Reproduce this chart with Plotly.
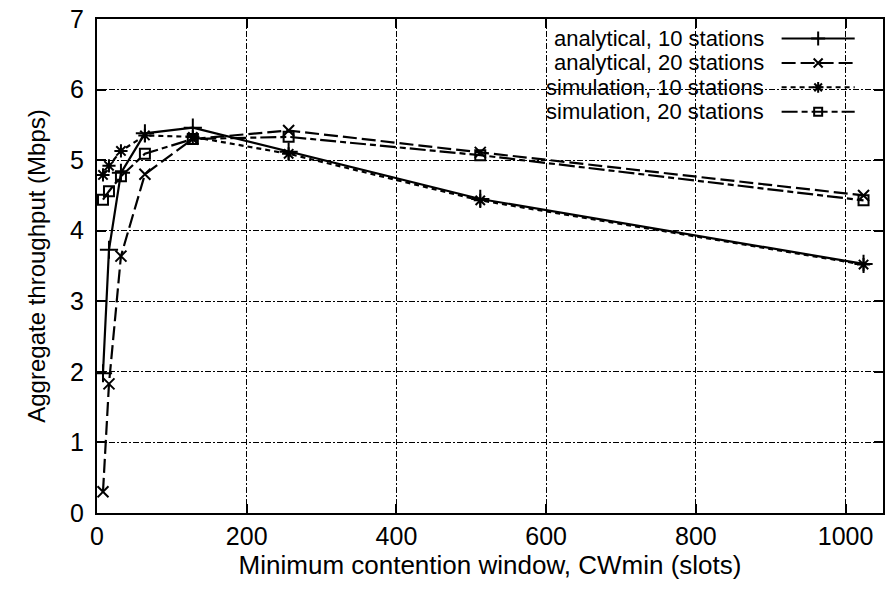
import plotly.graph_objects as go

# ---- data ----
cwmin = [8, 16, 32, 64, 128, 256, 512, 1024]
analytical_10 = [1.98, 3.73, 4.82, 5.38, 5.46, 5.12, 4.45, 3.53]
analytical_20 = [0.30, 1.83, 3.64, 4.80, 5.30, 5.42, 5.11, 4.50]
simulation_10 = [4.79, 4.92, 5.13, 5.35, 5.33, 5.09, 4.43, 3.52]
simulation_20 = [4.44, 4.56, 4.77, 5.09, 5.30, 5.33, 5.07, 4.43]

series_names = ["analytical, 10 stations", "analytical, 20 stations",
                "simulation, 10 stations", "simulation, 20 stations"]
series_values = [analytical_10, analytical_20, simulation_10, simulation_20]

x_ticks = [0, 200, 400, 600, 800, 1000]
y_ticks = [0, 1, 2, 3, 4, 5, 6, 7]

# ---- styles ----
styles = [
    dict(dash="solid", symbol="cross-thin", size=13, lsize=10),
    dict(dash="14px,5px", symbol="x-thin", size=11, lsize=9),
    dict(dash="5px,4px", symbol="asterisk", size=11, lsize=9),
    dict(dash="16px,4px,6px,4px", symbol="square-open", size=10, lsize=8),
]

FONT = "Liberation Sans, Arial, Helvetica, sans-serif"

fig = go.Figure()

for name, vals, st in zip(series_names, series_values, styles):
    fig.add_trace(go.Scatter(
        x=cwmin, y=vals, mode="lines+markers", name=name, showlegend=False,
        line=dict(color="black", width=2.2, dash=st["dash"]),
        marker=dict(symbol=st["symbol"], size=st["size"], color="black",
                    line=dict(color="black", width=2)),
    ))

# ---- custom gnuplot-style legend (text left, sample right) ----
leg_rows = [0.9606, 0.9111, 0.8616, 0.8121]
leg_x0, leg_x1, leg_text_x = 0.871, 0.964, 0.850
for name, st, yy in zip(series_names, styles, leg_rows):
    fig.add_trace(go.Scatter(
        x=[leg_x0, leg_x1], y=[yy, yy], mode="lines", xaxis="x2", yaxis="y2",
        showlegend=False, hoverinfo="skip",
        line=dict(color="black", width=2, dash=st["dash"]),
    ))
    fig.add_trace(go.Scatter(
        x=[(leg_x0 + leg_x1) / 2], y=[yy], mode="markers", xaxis="x2", yaxis="y2",
        showlegend=False, hoverinfo="skip",
        marker=dict(symbol=st["symbol"], size=st["lsize"], color="black",
                    line=dict(color="black", width=2)),
    ))
    fig.add_annotation(x=leg_text_x, y=yy, xref="paper", yref="paper",
                       text=name, showarrow=False, xanchor="right", yanchor="middle",
                       borderpad=0,
                       font=dict(family=FONT, size=22, color="black"))

fig.add_shape(type="rect", xref="paper", yref="paper", x0=0.396, x1=1.0, y0=0.784, y1=1.0,
              fillcolor="white", line=dict(width=0), layer="between")

axis_common = dict(
    showline=True, linecolor="black", linewidth=2, mirror="ticks",
    ticks="inside", ticklen=9, tickwidth=1.5, tickcolor="black",
    showgrid=True, gridcolor="black", gridwidth=1.2, griddash="6px,2px,2px,2px",
    zeroline=False, tickfont=dict(family=FONT, size=25, color="black"),
)

fig.update_layout(
    width=890, height=590,
    margin=dict(l=97, r=5, t=18, b=77),
    paper_bgcolor="white", plot_bgcolor="white",
    font=dict(family=FONT, color="black"),
    xaxis=dict(range=[0, 1050], tickvals=x_ticks, ticklabelstandoff=0,
               title=dict(text="Minimum contention window, CWmin (slots)",
                          font=dict(family=FONT, size=26), standoff=6),
               **axis_common),
    yaxis=dict(range=[0, 7], tickvals=y_ticks, ticklabelstandoff=6,
               title=dict(text="Aggregate throughput (Mbps)",
                          font=dict(family=FONT, size=24), standoff=18),
               **axis_common),
    xaxis2=dict(range=[0, 1], overlaying="x", visible=False, fixedrange=True),
    yaxis2=dict(range=[0, 1], overlaying="y", visible=False, fixedrange=True),
)

fig.write_html("out.html")
